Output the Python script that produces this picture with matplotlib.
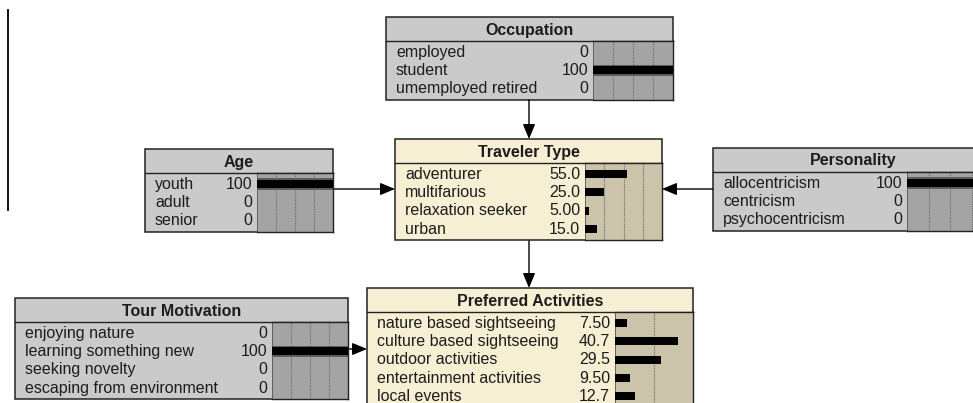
import matplotlib
matplotlib.use("Agg")
import matplotlib.pyplot as plt
from matplotlib.patches import Rectangle
import numpy as np

# Node states and beliefs (percent)
OCCUPATION_STATES = ["employed", "student", "umemployed retired"]
OCCUPATION_PCT = [0, 100, 0]

AGE_STATES = ["youth", "adult", "senior"]
AGE_PCT = [100, 0, 0]

TRAVELER_STATES = ["adventurer", "multifarious", "relaxation seeker", "urban"]
TRAVELER_PCT = [55.0, 25.0, 5.00, 15.0]

PERSONALITY_STATES = ["allocentricism", "centricism", "psychocentricism"]
PERSONALITY_PCT = [100, 0, 0]

MOTIVATION_STATES = ["enjoying nature", "learning something new",
                     "seeking novelty", "escaping from environment"]
MOTIVATION_PCT = [0, 100, 0, 0]

ACTIVITY_STATES = ["nature based sightseeing", "culture based sightseeing",
                   "outdoor activities", "entertainment activities", "local events"]
ACTIVITY_PCT = [7.50, 40.7, 29.5, 9.50, 12.7]

# Figure geometry in pixels
W, H = 973, 403
TITLE_H = 24
PITCH = 18.3
PAD = 2

# Colours
GRAY_BOX = "#cacaca"
GRAY_BAR = "#a4a4a4"
CREAM_BOX = "#f7efd4"
CREAM_BAR = "#cbc3aa"
TEXT = "#1c1c1c"
FONT = "Liberation Sans"
FS = 11.5

fig = plt.figure(figsize=(W / 100, H / 100), dpi=100)
ax = fig.add_axes([0, 0, 1, 1])
ax.set_xlim(0, W)
ax.set_ylim(H, 0)
ax.axis("off")


def fmt(v):
    if v == 0:
        return "0"
    if v >= 100:
        return "100"
    if v >= 10:
        return f"{v:.1f}"
    return f"{v:.2f}"


def draw_node(title, states, pct, left, top, right, bar_left, cream=False,
              scale=100, grid=(25, 50, 75), n_rows=None):
    n = len(states)
    rows = n if n_rows is None else n_rows
    box_c = CREAM_BOX if cream else GRAY_BOX
    bar_c = CREAM_BAR if cream else GRAY_BAR
    sep = top + TITLE_H
    bottom = sep + 2 * PAD + rows * PITCH

    ax.add_patch(Rectangle((left, top), right - left, bottom - top,
                           facecolor=box_c, edgecolor="#222222", lw=1.1, zorder=1))
    ax.plot([left, right], [sep, sep], color="#222222", lw=1.0, zorder=2)
    ax.text((left + right) / 2, top + TITLE_H / 2 + 1, title, ha="center", va="center",
            fontsize=FS, fontweight="bold", family=FONT, color=TEXT, zorder=3)

    for i, (s, v) in enumerate(zip(states, pct)):
        y = sep + PAD + (i + 0.5) * PITCH
        ax.text(left + 10, y, s, ha="left", va="center", fontsize=FS,
                family=FONT, color=TEXT, zorder=3)
        ax.text(bar_left - 5, y, fmt(v), ha="right", va="center", fontsize=FS,
                family=FONT, color=TEXT, zorder=3)

    # bar panel as its own axes, rows indexed 0..n-1
    bx = fig.add_axes([bar_left / W, 1 - bottom / H,
                       (right - bar_left) / W, (bottom - sep) / H])
    bx.set_facecolor(bar_c)
    bx.set_xlim(0, scale)
    extra = PAD / PITCH
    bx.set_ylim(rows - 0.5 + extra, -0.5 - extra)
    for g in grid:
        bx.axvline(g, color="#6a6a6a", lw=0.8, ls=(0, (1, 1)), zorder=1)
    idx = np.arange(n)
    full = [v if v >= 100 else 0 for v in pct]
    bx.barh(idx, full, height=0.62, color="#5c5c5c", zorder=2)
    bx.barh(idx, pct, height=0.44, color="black", zorder=3)
    bx.set_xticks([])
    bx.set_yticks([])
    for sp in bx.spines.values():
        sp.set_color("#222222")
        sp.set_linewidth(1.0)
    bx.spines["left"].set_color("#555555")
    bx.spines["left"].set_linewidth(0.6)
    return bottom


draw_node("Occupation", OCCUPATION_STATES, OCCUPATION_PCT, 386, 17, 673, 593)
draw_node("Age", AGE_STATES, AGE_PCT, 145, 149, 333, 257)
draw_node("Traveler Type", TRAVELER_STATES, TRAVELER_PCT, 395, 139, 662, 585, cream=True)
draw_node("Personality", PERSONALITY_STATES, PERSONALITY_PCT, 713, 148, 993, 907)
draw_node("Tour Motivation", MOTIVATION_STATES, MOTIVATION_PCT, 15, 298, 348, 272)
draw_node("Preferred Activities", ACTIVITY_STATES, ACTIVITY_PCT, 367, 288, 693, 615,
          cream=True, scale=50, grid=(25,), n_rows=7)

# links
arrow = dict(arrowstyle="-|>,head_length=0.6,head_width=0.25", color="black",
             lw=1.0, mutation_scale=15, shrinkA=0, shrinkB=0)
ax.annotate("", xy=(529, 139), xytext=(529, 100), arrowprops=arrow)
ax.annotate("", xy=(529, 288), xytext=(529, 241), arrowprops=arrow)
ax.annotate("", xy=(395, 189), xytext=(333, 189), arrowprops=arrow)
ax.annotate("", xy=(662, 189), xytext=(713, 189), arrowprops=arrow)
ax.annotate("", xy=(367, 349), xytext=(348, 349), arrowprops=arrow)

# stray cursor line at the left edge
ax.plot([8, 8], [10, 210], color="black", lw=1.3)

fig.savefig("out.png", dpi=100)
